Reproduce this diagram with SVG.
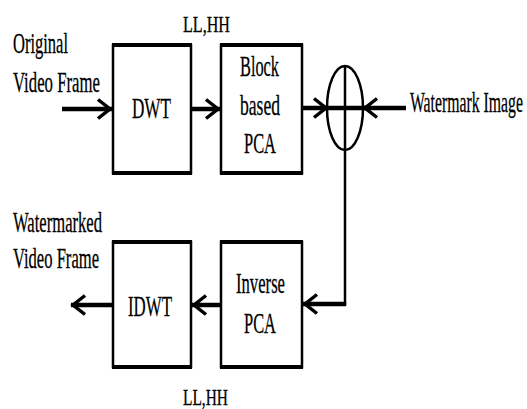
<svg xmlns="http://www.w3.org/2000/svg" width="527" height="409" viewBox="0 0 527 409">
<style>
text{font-family:"Liberation Serif","Times New Roman",serif;font-size:30px;fill:#000;stroke:#000;stroke-width:0.3}
.sm{font-size:24px}
.box{fill:#fff;stroke:#000;stroke-width:2.5}
.tb{stroke:#000;stroke-width:4;fill:none}
.ar{stroke:#000;stroke-width:4.5;fill:none}
.thin{stroke:#000;stroke-width:2.5;fill:none}
</style>
<defs>
<marker id="ah" markerUnits="userSpaceOnUse" viewBox="-18 -14 22 28" refX="0" refY="0" markerWidth="22" markerHeight="28" orient="auto" overflow="visible">
<path d="M-14 -9.5 L-2 0 L-14 9.5" fill="none" stroke="#000" stroke-width="3.5"/>
</marker>
</defs>
<g id="connectors">
<path class="ar" d="M62 109 H112" marker-end="url(#ah)"/>
<path class="ar" d="M191 109 H220" marker-end="url(#ah)"/>
<path class="ar" d="M302 108 H328" marker-end="url(#ah)"/>
<path class="ar" d="M406 108 H363" marker-end="url(#ah)"/>
<path class="ar" d="M326 108 H365"/>
<path class="thin" d="M345 66 V305"/>
<path class="ar" d="M346.2 304 H303" marker-end="url(#ah)"/>
<path class="ar" d="M221 305 H192" marker-end="url(#ah)"/>
<path class="ar" d="M113 305 H71" marker-end="url(#ah)"/>
</g>
<g id="sum">
<ellipse cx="345" cy="108" rx="18" ry="42" fill="none" stroke="#000" stroke-width="2.5"/>
</g>
<g id="dwt">
<rect class="box" x="113" y="45" width="78" height="128"/>
<path class="tb" d="M112 45 H192 M112 173 H192"/>
<text x="132" y="118" textLength="39" lengthAdjust="spacingAndGlyphs">DWT</text>
</g>
<g id="pca">
<rect class="box" x="221" y="45" width="81" height="128"/>
<path class="tb" d="M220 45 H303 M220 173 H303"/>
<text x="240" y="76" textLength="39" lengthAdjust="spacingAndGlyphs">Block</text>
<text x="240" y="115" textLength="40" lengthAdjust="spacingAndGlyphs">based</text>
<text x="244" y="153" textLength="32" lengthAdjust="spacingAndGlyphs">PCA</text>
</g>
<g id="idwt">
<rect class="box" x="113" y="242" width="78" height="125"/>
<path class="tb" d="M112 242 H192 M112 367 H192"/>
<text x="128" y="316" textLength="44" lengthAdjust="spacingAndGlyphs">IDWT</text>
</g>
<g id="ipca">
<rect class="box" x="221" y="242" width="81" height="125"/>
<path class="tb" d="M220 242 H303 M220 367 H303"/>
<text x="236" y="293" textLength="49" lengthAdjust="spacingAndGlyphs">Inverse</text>
<text x="244" y="333" textLength="32" lengthAdjust="spacingAndGlyphs">PCA</text>
</g>
<g id="labels">
<text class="sm" x="183" y="32" textLength="47" lengthAdjust="spacingAndGlyphs">LL,HH</text>
<text x="13" y="53" textLength="55" lengthAdjust="spacingAndGlyphs">Original</text>
<text x="13" y="92" textLength="87" lengthAdjust="spacingAndGlyphs">Video Frame</text>
<text x="410" y="112" textLength="113" lengthAdjust="spacingAndGlyphs">Watermark Image</text>
<text x="13" y="232" textLength="89" lengthAdjust="spacingAndGlyphs">Watermarked</text>
<text x="13" y="268" textLength="86" lengthAdjust="spacingAndGlyphs">Video Frame</text>
<text class="sm" x="183" y="405" textLength="45" lengthAdjust="spacingAndGlyphs">LL,HH</text>
</g>
</svg>
